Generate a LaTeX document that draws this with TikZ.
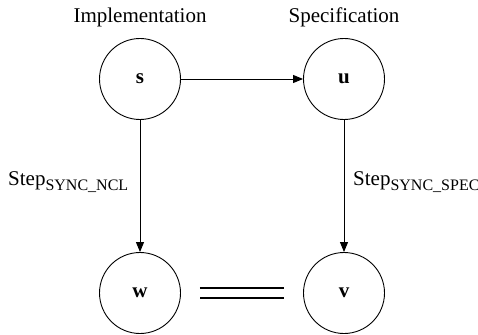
\documentclass[tikz,border=0pt]{standalone}
\usepackage{fontspec}
\setmainfont{Liberation Serif}
\usepackage{tikz}
\usetikzlibrary{arrows.meta,positioning}
\newcommand{\steplbl}[1]{Step\raisebox{-5pt}{\fontsize{16}{16}\selectfont #1}}

\begin{document}
\begin{tikzpicture}[x=1pt,y=-1pt,
    state/.style={draw, circle, line width=0.9pt, minimum size=81pt, inner sep=0pt, font=\fontsize{21}{24}\selectfont\bfseries},
    lbl/.style={font=\fontsize{21}{24}\selectfont, inner sep=0pt},
    arr/.style={-{Triangle[length=10pt,width=8pt]}, line width=0.9pt}]
    \useasboundingbox (0,0) rectangle (478,334);
    % states
    \node[state] (s) at (140,79) {s};
    \node[state] (u) at (344,79) {u};
    \node[state] (w) at (140,293) {w};
    \node[state] (v) at (344,293) {v};
    % titles
    \node[lbl, anchor=base] (impl) at (140,23) {Implementation};
    \node[lbl, anchor=base] (spec) at (344,23) {Specification};
    % transitions
    \draw[arr] (s) -- (u);
    \draw[arr] (s) -- (w);
    \draw[arr] (u) -- (v);
    \node[lbl, anchor=base west] (ncl) at (8,185) {\steplbl{SYNC\_NCL}};
    \node[lbl, anchor=base west] (sspec) at (353,185) {\steplbl{SYNC\_SPEC}};
    % equality
    \draw[double, line width=1.2pt, double distance=8.8pt, shorten <=19pt, shorten >=19pt] (w) -- (v);
  \end{tikzpicture}
\end{document}
